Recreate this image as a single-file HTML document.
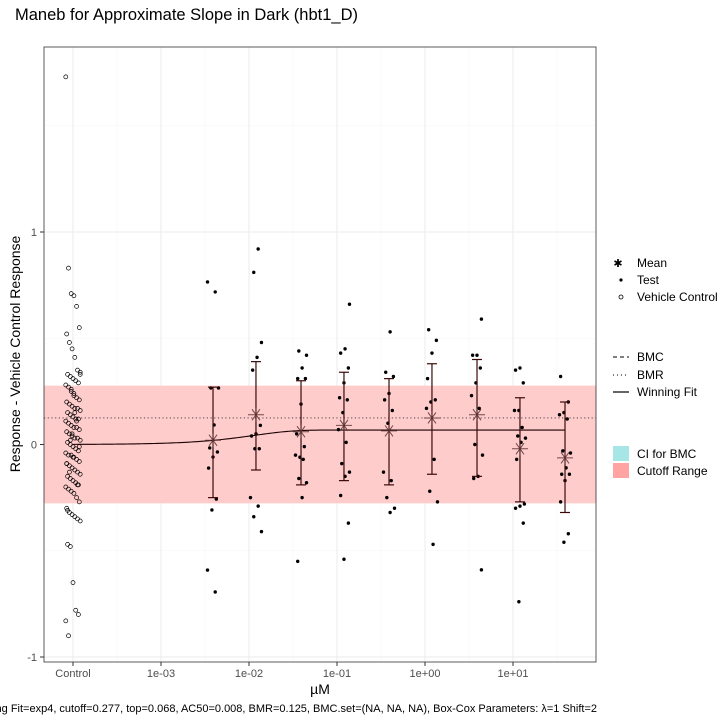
<!DOCTYPE html>
<html><head><meta charset="utf-8">
<style>
body{margin:0;background:#fff;}
svg{display:block;font-family:"Liberation Sans",sans-serif;}
</style></head>
<body>
<svg id="chart" width="720" height="720" viewBox="0 0 720 720" xmlns="http://www.w3.org/2000/svg">
<text x="15" y="20" font-size="16.5" fill="#000">Maneb for Approximate Slope in Dark (hbt1_D)</text>
<rect x="44" y="47" width="552" height="615" fill="#fff"/>
<g id="grid"></g>
<g id="band"></g>
<g id="marks"></g>
<rect x="44" y="47" width="552" height="615" fill="none" stroke="#333" stroke-width="0.8"/>
<g id="axes"></g>
<text transform="translate(20,354) rotate(-90)" text-anchor="middle" font-size="14">Response - Vehicle Control Response</text>
<text x="320" y="694" text-anchor="middle" font-size="14">µM</text>
<text x="597" y="712" text-anchor="end" font-size="11">Winning Fit=exp4, cutoff=0.277, top=0.068, AC50=0.008, BMR=0.125, BMC.set=(NA, NA, NA), Box-Cox Parameters: λ=1 Shift=2</text>
<g font-size="12">
 <text x="618" y="267" font-size="11" text-anchor="middle">✱</text>
 <text x="637" y="267">Mean</text>
 <circle cx="621" cy="280" r="1.6" fill="#000"/>
 <text x="637" y="284">Test</text>
 <circle cx="621" cy="297" r="2" fill="none" stroke="#000" stroke-width="0.8"/>
 <text x="637" y="301">Vehicle Control</text>
 <line x1="613" y1="357" x2="629" y2="357" stroke="#000" stroke-dasharray="4,3"/>
 <text x="637" y="361">BMC</text>
 <line x1="613" y1="375" x2="629" y2="375" stroke="#000" stroke-dasharray="1,3"/>
 <text x="637" y="379">BMR</text>
 <line x1="613" y1="392" x2="629" y2="392" stroke="#000" stroke-width="1.2"/>
 <text x="637" y="396">Winning Fit</text>
 <rect x="613" y="446" width="16" height="15" fill="#a6e6e6"/>
 <text x="637" y="458">CI for BMC</text>
 <rect x="613" y="463" width="16" height="15" fill="#ffa3a3"/>
 <text x="637" y="475">Cutoff Range</text>
</g>
</svg>
<script>
const xTickLabels = ["Control","1e-03","1e-02","1e-01","1e+00","1e+01"];
const xTickLogs = [-4,-3,-2,-1,0,1];
const yTicks = [-1,0,1];
const cutoff = 0.277;
const bmr = 0.125;
const fitTop = 0.068, fitAC50 = 0.008;
const doses = [0.0039,0.012,0.039,0.12,0.39,1.2,3.9,12,39];
const means = [0.02,0.14,0.06,0.09,0.064,0.125,0.14,-0.02,-0.063];
const errHi = [0.27,0.39,0.30,0.34,0.31,0.38,0.40,0.22,0.20];
const errLo = [-0.25,-0.12,-0.19,-0.17,-0.19,-0.14,-0.15,-0.27,-0.32];
const testVals = [
 [0.765,0.718,0.266,0.266,0.092,-0.016,-0.035,-0.059,-0.111,-0.257,-0.308,-0.591,-0.694],
 [0.92,0.81,0.48,0.41,0.35,0.09,0.05,0.04,-0.02,-0.02,-0.25,-0.29,-0.34,-0.41],
 [0.44,0.42,0.36,0.31,0.31,0.19,0.05,-0.01,-0.06,-0.05,-0.07,-0.16,-0.18,-0.25,-0.55],
 [0.66,0.45,0.43,0.36,0.29,0.22,0.21,0.15,0.07,0.01,-0.09,-0.13,-0.15,-0.24,-0.37,-0.54],
 [0.53,0.34,0.32,0.24,0.21,0.16,0.10,-0.13,-0.17,-0.25,-0.30,-0.32],
 [0.54,0.49,0.43,0.31,0.21,0.20,0.17,-0.07,-0.22,-0.27,-0.47],
 [0.59,0.42,0.42,0.36,0.29,0.23,0.17,0.0,-0.05,-0.15,-0.16,-0.59],
 [0.36,0.35,0.29,0.16,0.16,0.08,0.04,0.03,0.01,-0.07,-0.28,-0.29,-0.30,-0.37,-0.74],
 [0.32,0.20,0.15,0.14,0.12,-0.03,-0.04,-0.11,-0.14,-0.14,-0.17,-0.27,-0.42,-0.46]
];
const controlVals = [1.73,0.83,0.71,0.70,0.65,0.55,0.52,0.48,0.45,0.41,0.35,0.34,0.33,0.32,0.31,0.30,0.29,0.28,0.27,0.25,
 0.23,0.22,0.21,0.20,0.19,0.18,0.17,0.17,0.16,0.15,0.14,0.13,0.12,0.12,0.11,0.10,0.09,0.08,0.08,0.07,
 0.06,0.05,0.04,0.03,0.03,0.02,0.01,0.0,-0.01,-0.02,-0.03,-0.04,-0.05,-0.05,-0.06,-0.07,-0.08,-0.09,-0.10,-0.11,
 -0.12,-0.13,-0.14,-0.15,-0.16,-0.17,-0.18,-0.19,-0.20,-0.21,-0.22,-0.23,-0.25,-0.27,-0.30,-0.32,-0.33,-0.34,-0.35,-0.36,
 -0.47,-0.48,-0.65,-0.78,-0.80,-0.83,-0.90,0.26,0.24,0.11,-0.01,-0.09,-0.13,0.05,0.15,-0.19,0.33,-0.31,0.02,-0.06];
const controlLog = -4;

const NS="http://www.w3.org/2000/svg";
const X0=73, DEC=88;
function xs(logv){return X0+(logv+4)*DEC;}
function ys(v){return 444.5-212.5*v;}
function mk(tag,attrs,parent){const e=document.createElementNS(NS,tag);for(const k in attrs)e.setAttribute(k,attrs[k]);parent.appendChild(e);return e;}
const grid=document.getElementById('grid'),band=document.getElementById('band'),marks=document.getElementById('marks'),axes=document.getElementById('axes');

for(let i=0;i<xTickLogs.length;i++){
 const x=xs(xTickLogs[i]);
 const g=mk('line',{x1:x,x2:x,y1:47,y2:662,stroke:'#ebebeb','stroke-width':1},grid);
 
 
 const xm=xs(xTickLogs[i]+0.5);
 const gm=mk('line',{x1:xm,x2:xm,y1:47,y2:662,stroke:'#f4f4f4','stroke-width':0.6},grid);
 
 
 const t=mk('line',{x1:x,x2:x,y1:662,y2:666,stroke:'#333'},axes);
 
 
 const l=mk('text',{x:x,y:677,'text-anchor':'middle','font-size':11,fill:'#4d4d4d'},axes);
 l.textContent=xTickLabels[i];
 
 
}
for(let v=-1;v<=1.5;v+=0.5){
 const y=ys(v);
 const g=mk('line',{x1:44,x2:596,y1:y,y2:y,stroke:Number.isInteger(v)?'#ebebeb':'#f4f4f4','stroke-width':Number.isInteger(v)?1:0.6},grid);
 
 
}
for(const v of yTicks){
 const y=ys(v);
 const t=mk('line',{x1:40,x2:44,y1:y,y2:y,stroke:'#333'},axes);
 
 
 const l=mk('text',{x:37,y:y+4,'text-anchor':'end','font-size':11,fill:'#4d4d4d'},axes);
 l.textContent=String(v);
 
 
}
const b=mk('rect',{x:44,y:ys(cutoff),width:552,height:ys(-cutoff)-ys(cutoff),fill:'#ffcccc'},band);


const bl=mk('line',{x1:44,x2:596,y1:ys(bmr),y2:ys(bmr),stroke:'#333','stroke-width':0.8,'stroke-dasharray':'1.2,2.5'},band);



controlVals.forEach((v,i)=>{
 const jit=((i*37)%17-8)*0.9;
 const c=mk('circle',{cx:xs(controlLog)+jit,cy:ys(v),r:2,fill:'none',stroke:'#000','stroke-width':0.7},marks);
 
 
});
let d='';
for(let k=0;k<=200;k++){
 const lg=-4+k*(Math.log10(doses[doses.length-1])+4)/200;
 const c=Math.pow(10,lg);
 const y=fitTop*(1-Math.pow(2,-c/fitAC50));
 d+=(k?'L':'M')+xs(lg).toFixed(2)+','+ys(y).toFixed(2);
}
const fl=mk('path',{d:d,fill:'none',stroke:'#1a0000','stroke-width':1.1},marks);



testVals.forEach((arr,g)=>{
 const xc=xs(Math.log10(doses[g]));
 arr.forEach((v,i)=>{
  const jit=((i*29+g*7)%11-5)*1.1;
  const c=mk('circle',{cx:xc+jit,cy:ys(v),r:1.7,fill:'#000'},marks);
  
  
 });
});
doses.forEach((dz,g)=>{
 const x=xs(Math.log10(dz));
 const grp=mk('g',{stroke:'#3a0a0a','stroke-width':1.2},marks);
 
 
 mk('line',{x1:x,x2:x,y1:ys(errHi[g]),y2:ys(errLo[g])},grp);
 mk('line',{x1:x-5,x2:x+5,y1:ys(errHi[g]),y2:ys(errHi[g])},grp);
 mk('line',{x1:x-5,x2:x+5,y1:ys(errLo[g]),y2:ys(errLo[g])},grp);
 const s=mk('g',{stroke:'#5a3030','stroke-width':1,opacity:0.85},marks);
 
 
 const y=ys(means[g]), r=8;
 for(const a of [0,60,120]){
  const rad=a*Math.PI/180;
  mk('line',{x1:x-r*Math.cos(rad),y1:y-r*Math.sin(rad)*0.8,x2:x+r*Math.cos(rad),y2:y+r*Math.sin(rad)*0.8},s);
 }
 mk('line',{x1:x,y1:y-7,x2:x,y2:y+7},s);
});
</script>
</body></html>
